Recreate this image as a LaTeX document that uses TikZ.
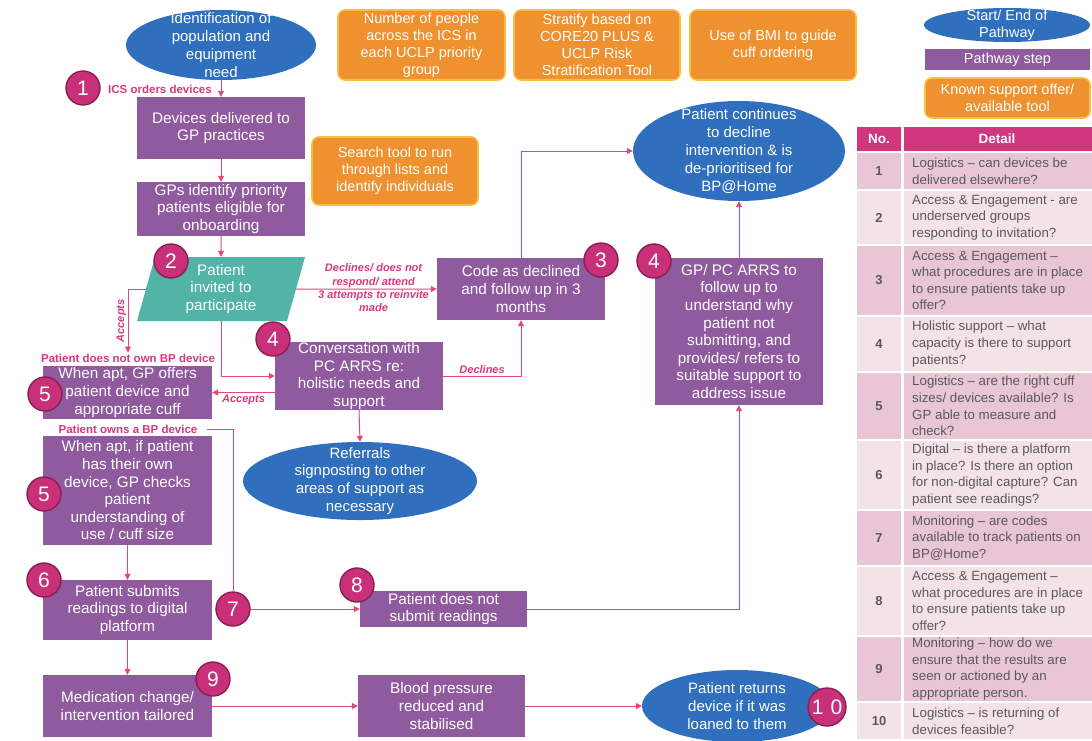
\documentclass[tikz,border=0pt]{standalone}
\usepackage{fontspec}
\setmainfont{Liberation Sans}
\usepackage{tikz}
\usetikzlibrary{arrows.meta,shapes.geometric}
\definecolor{CapBlue}{HTML}{2F6FBE}
\definecolor{StepPurple}{HTML}{8F5A9E}
\definecolor{ToolOrange}{HTML}{EE912E}
\definecolor{ToolEdge}{HTML}{F7BE45}
\definecolor{InviteTeal}{HTML}{52B4A6}
\definecolor{BadgePink}{HTML}{C8307A}
\definecolor{BadgeEdge}{HTML}{8A1E4E}
\definecolor{LinePink}{HTML}{E2477F}
\definecolor{CueText}{HTML}{D8387A}
\definecolor{HeadPink}{HTML}{D2367E}
\definecolor{RowDark}{HTML}{E9C6D5}
\definecolor{RowLight}{HTML}{F4E2E9}
\definecolor{TableText}{HTML}{5A5A5A}

\begin{document}
\begin{tikzpicture}[x=1pt,y=-1pt,
  stepbox/.style={rectangle, fill=StepPurple, text=white, align=center, inner sep=0pt, font=\fontsize{15.3}{17.6}\selectfont},
  toolbox/.style={rectangle, rounded corners=7pt, fill=ToolOrange, draw=ToolEdge, line width=1.6pt, text=white, align=center, inner sep=0pt, font=\fontsize{14.5}{17}\selectfont},
  endcap/.style={ellipse, fill=CapBlue, inner sep=0pt},
  captext/.style={text=white, align=center, inner sep=0pt, font=\fontsize{15}{17.8}\selectfont},
  invitebox/.style={trapezium, trapezium left angle=70, trapezium right angle=110, trapezium stretches body, fill=InviteTeal, text=white, align=center, inner sep=0pt, font=\fontsize{15.3}{17.6}\selectfont},
  badge/.style={circle, fill=BadgePink, draw=BadgeEdge, line width=1.4pt, text=white, minimum size=34pt, inner sep=0pt, font=\fontsize{21}{21}\selectfont},
  flow/.style={draw=LinePink, line width=1pt, -{Triangle[length=6pt,width=6pt]}},
  link/.style={draw=LinePink, line width=1pt},
  note/.style={text=CueText, inner sep=1pt, font=\bfseries\fontsize{11.5}{13.5}\selectfont},
  cue/.style={text=CueText, align=center, inner sep=1pt, font=\bfseries\itshape\fontsize{11}{13.5}\selectfont},
  tabnum/.style={text=TableText, inner sep=0pt, font=\bfseries\fontsize{13}{16}\selectfont},
  tabtxt/.style={anchor=west, align=left, text=TableText, inner sep=0pt, font=\fontsize{13.3}{16.6}\selectfont},
  tabhead/.style={text=white, inner sep=0pt, font=\bfseries\fontsize{13.5}{16}\selectfont}]
  \useasboundingbox (0,0) rectangle (1092,740);

  % start, tools and first steps
  \node[endcap, minimum width=190pt, minimum height=70pt] (need) at (221,45) {};
  \node[captext] (needtext) at (need) {Identification of\\population and\\equipment\\need};
  \node[toolbox, minimum width=167pt, minimum height=70pt] (people) at (421.5,45) {Number of people\\across the ICS in\\each UCLP priority\\group};
  \node[toolbox, minimum width=166pt, minimum height=70pt] (stratify) at (597,45) {Stratify based on\\CORE20 PLUS \&\\UCLP Risk\\Stratification Tool};
  \node[toolbox, minimum width=166pt, minimum height=70pt] (bmi) at (773,45) {Use of BMI to guide\\cuff ordering};
  \node[stepbox, minimum width=168pt, minimum height=62pt] (delivered) at (221,128) {Devices delivered to\\GP practices};
  \node[stepbox, minimum width=168pt, minimum height=54pt] (identify) at (221,209) {GPs identify priority\\patients eligible for\\onboarding};
  \node[toolbox, minimum width=166pt, minimum height=68pt] (search) at (395,171) {Search tool to run\\through lists and\\identify individuals};
  \node[note] (orders) at (160,89) {ICS orders devices};

  % invitation and conversation
  \node[invitebox, minimum width=168pt, minimum height=64pt] (invite) at (221,289) {Patient\\invited to\\participate};
  \node[stepbox, minimum width=168pt, minimum height=62pt] (declined) at (521,289) {Code as declined\\and follow up in 3\\months};
  \node[stepbox, minimum width=168pt, minimum height=62pt] (converse) at (359,376) {Conversation with\\PC ARRS re:\\holistic needs and\\support};
  \node[note] (ownnot) at (128,358) {Patient does not own BP device};
  \node[stepbox, minimum width=169pt, minimum height=53pt] (gpoffer) at (127.5,392.5) {When apt, GP offers\\patient device and\\appropriate cuff};
  \node[endcap, minimum width=234pt, minimum height=78pt] (referral) at (360,481) {};
  \node[captext] (referraltext) at (referral) {Referrals\\signposting to other\\areas of support as\\necessary};
  \node[endcap, minimum width=212pt, minimum height=100pt] (cont) at (739,151) {};
  \node[captext] (conttext) at (cont) {Patient continues\\to decline\\intervention \& is\\de-prioritised for\\BP@Home};
  \node[stepbox, minimum width=168pt, minimum height=147pt] (followup) at (739,331.5) {GP/ PC ARRS to\\follow up to\\understand why\\patient not\\submitting, and\\provides/ refers to\\suitable support to\\address issue};

  % own device, readings and close
  \node[note] (owns) at (128,429) {Patient owns a BP device};
  \node[stepbox, minimum width=169pt, minimum height=109pt] (ownbox) at (127.5,490.5) {When apt, if patient\\has their own\\device, GP checks\\patient\\understanding of\\use / cuff size};
  \node[stepbox, minimum width=169pt, minimum height=60pt] (submit) at (127.5,610) {Patient submits\\readings to digital\\platform};
  \node[stepbox, minimum width=167pt, minimum height=36pt] (dnsubmit) at (443.5,609) {Patient does not\\submit readings};
  \node[stepbox, minimum width=169pt, minimum height=62pt] (medic) at (127.5,706) {Medication change/\\intervention tailored};
  \node[stepbox, minimum width=167pt, minimum height=62pt] (bp) at (441.5,706) {Blood pressure\\reduced and\\stabilised};
  \node[endcap, minimum width=190pt, minimum height=72pt] (back) at (737,706) {};
  \node[captext] (backtext) at (back) {Patient returns\\device if it was\\loaned to them};

  \node[badge] (n1) at (83,88) {1};
  \node[badge] (n2) at (171,261) {2};
  \node[badge] (n3) at (601,260) {3};
  \node[badge] (n4a) at (273,339) {4};
  \node[badge] (n4b) at (654,261) {4};
  \node[badge] (n5a) at (45,394) {5};
  \node[badge] (n5b) at (44,494) {5};
  \node[badge] (n6) at (44,580) {6};
  \node[badge] (n7) at (233,609) {7};
  \node[badge] (n8) at (357,585) {8};
  \node[badge] (n9) at (213,679) {9};
  \node[badge, minimum size=38pt] (n10) at (827,707) {1\,\,0};

  % connectors
  \draw[flow] (need.south) -- (delivered.north);
  \draw[flow] (delivered) -- (identify);
  \draw[flow] (identify) -- (invite.north);
  \draw[flow] (invite.west) -| (ownnot.north)
    node[cue, pos=0.75, rotate=90, anchor=south] {Accepts};
  \draw[flow] (invite.south) |- (converse.west);
  \draw[flow] (invite.east) -- (declined.west)
    node[cue, pos=0.55, above=0pt] {Declines/ does not\\respond/ attend}
    node[cue, pos=0.55, below=0pt] {3 attempts to reinvite\\made};
  \draw[flow] (converse.west |- gpoffer.east) -- (gpoffer.east)
    node[cue, midway, below=1pt] {Accepts};
  \draw[flow] (converse.east) -| (declined.south)
    node[cue, pos=0.25, above=1pt] {Declines};
  \draw[flow] (declined.north) |- (cont.west);
  \draw[flow] (followup.north) -- (cont.south);
  \draw[flow] (converse.south) -- (referral.north);
  \draw[link] ([xshift=8pt]owns.east) -| (n7.north);
  \draw[flow] (n7.east) -- (dnsubmit.west);
  \draw[flow] (dnsubmit.east) -| (followup.south);
  \draw[flow] (ownbox.south) -- (submit.north);
  \draw[flow] (submit.south) -- (medic.north);
  \draw[flow] (medic.east) -- (bp.west);
  \draw[flow] (bp.east) -- (back.west);

  % legend
  \node[endcap, minimum width=166pt, minimum height=34pt] (keycap) at (1007,25) {};
  \node[captext, font=\fontsize{14.5}{16.5}\selectfont] (keycaptext) at (keycap) {Start/ End of\\Pathway};
  \node[stepbox, minimum width=165pt, minimum height=21pt, font=\fontsize{14.5}{16.5}\selectfont] (keystep) at (1007.5,59.5) {Pathway step};
  \node[toolbox, minimum width=165pt, minimum height=40pt] (keytool) at (1007.5,98) {Known support offer/\\available tool};

  % table
  \fill[HeadPink] (857,127) rectangle (901,150.5);
  \fill[HeadPink] (903.5,127) rectangle (1092,150.5);
  \node[tabhead] (headno) at (879,139) {No.};
  \node[tabhead] (headdet) at (997,139) {Detail};
  \foreach \n/\ra/\rb/\rowc/\txt in {
    1/152/190/RowDark/{Logistics -- can devices be\\delivered elsewhere?},
    2/190/245/RowLight/{Access \& Engagement - are\\underserved groups\\responding to invitation?},
    3/245/316/RowDark/{Access \& Engagement --\\what procedures are in place\\to ensure patients take up\\offer?},
    4/316/372/RowLight/{Holistic support -- what\\capacity is there to support\\patients?},
    5/372/440/RowDark/{Logistics -- are the right cuff\\sizes/ devices available? Is\\GP able to measure and\\check?},
    6/440/510/RowLight/{Digital -- is there a platform\\in place? Is there an option\\for non-digital capture? Can\\patient see readings?},
    7/510/566/RowDark/{Monitoring -- are codes\\available to track patients on\\BP@Home?},
    8/566/636/RowLight/{Access \& Engagement --\\what procedures are in place\\to ensure patients take up\\offer?},
    9/636/702/RowDark/{Monitoring -- how do we\\ensure that the results are\\seen or actioned by an\\appropriate person.},
    10/702/740/RowLight/{Logistics -- is returning of\\devices feasible?}} {
    \fill[\rowc] (857,\ra+1) rectangle (901,\rb-1);
    \fill[\rowc] (903.5,\ra+1) rectangle (1092,\rb-1);
    \node[tabnum] (no\n) at (879,{(\ra+\rb)/2}) {\n};
    \node[tabtxt] (det\n) at (912,{(\ra+\rb)/2}) {\txt};
  }
\end{tikzpicture}
\end{document}
